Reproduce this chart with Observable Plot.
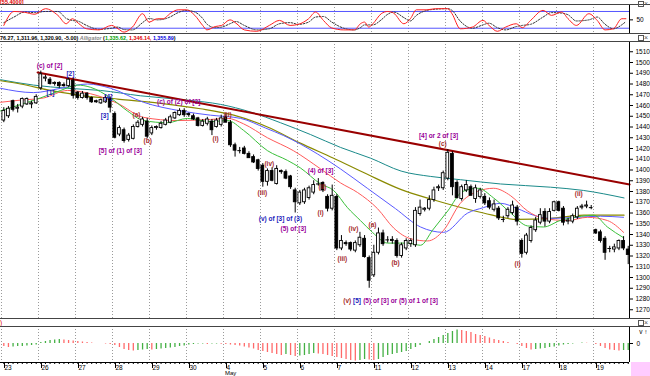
<!DOCTYPE html>
<html><head><meta charset="utf-8">
<script src="https://cdn.jsdelivr.net/npm/d3@7"></script>
<script src="https://cdn.jsdelivr.net/npm/@observablehq/plot@0.6"></script>
<style>
html,body{margin:0;padding:0;background:#fff;}
#c{position:relative;width:650px;height:376px;overflow:hidden;font-family:"Liberation Sans",Arial,sans-serif;background:#fff;}
#c svg{position:absolute;left:0;overflow:visible;}
.t{position:absolute;white-space:nowrap;font-size:6.5px;line-height:7px;}
.hl{position:absolute;height:1px;background:#000;}
</style></head><body><div id="c"></div>
<script>
// ---------- data ----------
const dayLabels = ["23","26","27","28","29","30","4","5","6","7","11","12","13","14","17","18","19"];
const monthLabel = "May";
const barsPerDay = 8;
const priceTicks = d3.range(1270, 1511, 10);

const opens = [
1446,1450,1464,1457,1459,1461,1461,1462, 1476,1485,1484,1480,1481,1479,1478,1483,
1472,1467,1471,1467,1464,1462,1463,1466, 1452,1433,1437,1428,1429,1440,1442,1445,
1434,1439,1439,1442,1444,1448,1451,1455, 1452,1450,1448,1441,1443,1445,1440,1442,
1449,1444,1423,1418,1420,1415,1412,1409, 1404,1389,1399,1387,1399,1398,1394,1381,
1369,1370,1374,1379,1387,1388,1375,1364, 1375,1327,1332,1332,1325,1330,1336,1318,
1302,1323,1341,1335,1335,1334,1320,1327, 1331,1330,1359,1363,1364,1372,1383,1383,
1392,1415,1388,1373,1381,1384,1373,1375, 1375,1371,1363,1364,1354,1357,1360,1365,
1334,1323,1334,1344,1351,1361,1352,1362, 1370,1364,1352,1352,1356,1365,1366,1365,
1344,1342,1336,1327,1326,1327,1334,1326];
const highs = [
1458,1459,1465,1461,1467,1467,1464,1470, 1492,1488,1486,1482,1482,1481,1485,1485,
1473,1473,1472,1468,1465,1466,1469,1468, 1454,1441,1439,1434,1442,1446,1449,1448,
1441,1441,1445,1448,1451,1454,1457,1457, 1453,1452,1449,1447,1449,1447,1448,1451,
1452,1446,1425,1421,1422,1417,1414,1410, 1406,1401,1402,1404,1400,1400,1395,1383,
1381,1383,1385,1390,1392,1389,1377,1386, 1377,1339,1334,1333,1334,1342,1339,1320,
1330,1346,1344,1338,1338,1336,1332,1336, 1336,1365,1372,1365,1376,1384,1386,1399,
1419,1417,1390,1386,1390,1386,1386,1383, 1378,1374,1372,1366,1357,1365,1371,1367,
1336,1341,1348,1356,1364,1364,1364,1371, 1371,1366,1355,1359,1366,1368,1371,1367,
1345,1344,1338,1329,1331,1335,1338,1329];
const lows = [
1444,1448,1454,1453,1457,1460,1457,1461, 1474,1482,1479,1478,1476,1477,1477,1466,
1465,1466,1465,1462,1462,1461,1462,1453, 1429,1431,1425,1426,1428,1439,1440,1429,
1432,1437,1438,1441,1443,1447,1450,1449, 1449,1446,1440,1440,1441,1432,1439,1440,
1444,1421,1412,1415,1414,1411,1406,1399, 1384,1385,1389,1386,1396,1391,1382,1360,
1367,1368,1372,1377,1385,1379,1361,1362, 1325,1325,1329,1324,1323,1328,1318,1290,
1300,1321,1329,1332,1331,1318,1318,1325, 1328,1328,1357,1361,1362,1370,1380,1381,
1390,1376,1373,1371,1379,1376,1369,1373, 1367,1363,1361,1353,1351,1355,1358,1348,
1318,1321,1332,1342,1349,1347,1350,1361, 1361,1348,1349,1350,1354,1363,1364,1363,
1340,1332,1316,1323,1323,1325,1325,1312];
const closes = [
1455,1457,1456,1458,1466,1466,1462,1468, 1489,1486,1480,1481,1478,1478,1484,1469,
1467,1471,1467,1463,1463,1465,1467,1458, 1430,1439,1427,1432,1440,1444,1447,1431,
1439,1440,1443,1446,1449,1453,1455,1451, 1451,1447,1441,1445,1447,1437,1446,1448,
1444,1423,1418,1418,1415,1411,1407,1401, 1389,1399,1390,1401,1398,1392,1384,1370,
1379,1381,1383,1386,1387,1381,1364,1376, 1327,1334,1331,1326,1332,1337,1319,1297,
1323,1341,1331,1335,1334,1320,1330,1334, 1334,1362,1365,1364,1372,1381,1384,1397,
1416,1384,1374,1384,1386,1376,1383,1381, 1369,1365,1368,1355,1354,1363,1367,1352,
1322,1339,1346,1353,1358,1352,1361,1370, 1362,1351,1353,1357,1364,1366,1367,1365,
1341,1334,1323,1327,1328,1334,1327,1321];

// moving averages: [bar position, price]
const tealLine = [[-0.7,1484],[6.4,1479],[13.8,1476],[20.9,1474],[29.6,1469],[39.7,1465],[46.9,1461],[53.3,1454],[59.8,1444],[66.3,1433],[72.8,1421],[79.3,1411],[85.9,1399],[92.3,1394],[98.7,1391],[107.4,1387],[118.2,1384],[125.3,1381],[134.1,1374]];
const oliveLine = [[-0.7,1483],[3.6,1480],[10.1,1474],[17.2,1469],[24.6,1466],[33.9,1462],[42.5,1457],[49.7,1451],[57,1440],[64.1,1425],[71.3,1411],[78.6,1396],[85.8,1382],[92.3,1373],[97.2,1367],[103.7,1360],[111.1,1354],[118.2,1355],[125.4,1358],[134.1,1358]];
const jawLine = [[-0.7,1476],[6.4,1472],[12.3,1476],[18.1,1480],[23.1,1476],[30.2,1463],[38.2,1455],[44.7,1451],[51.2,1448],[56.6,1439],[60.5,1432],[67.8,1415],[72.8,1401],[78.6,1383],[84.7,1364],[90.1,1347],[95.1,1342],[100.3,1360],[103.7,1365],[107.4,1369],[111.1,1364],[114.5,1358],[118.2,1355],[124,1356],[129,1357],[134,1356]];
const teethLine = [[-0.7,1463],[3.6,1465],[8.6,1467],[13.8,1474],[18.7,1471],[24.6,1462],[30.2,1449],[37.6,1446],[44.7,1447],[48.4,1448],[51.8,1443],[57,1430],[62.6,1418],[68.5,1401],[72.8,1388],[76.5,1379],[80.8,1364],[84.3,1346],[88,1336],[91.6,1334],[95.1,1344],[98.7,1369],[102.4,1380],[105.9,1383],[109.6,1376],[113.2,1362],[116.7,1355],[121.9,1353],[126.2,1356],[130.5,1353],[134,1342]];
const lipsLine = [[-0.7,1455],[3,1460],[7.9,1467],[12.3,1474],[15.9,1479],[18.7,1477],[23.1,1467],[26.7,1455],[30.2,1446],[35.4,1444],[39.7,1448],[44.7,1445],[48.4,1446],[51.8,1437],[57,1418],[61.3,1409],[64.1,1402],[68.5,1387],[71.3,1381],[74.3,1365],[77.1,1353],[79.7,1342],[83,1332],[87.3,1332],[90.1,1330],[92.7,1344],[96,1362],[99.2,1380],[102.5,1383],[105.9,1374],[109.6,1360],[113.2,1348],[116.7,1347],[120.3,1353],[124.9,1357],[127.5,1358],[130.5,1347],[134,1337]];
const trendLine = [[7.3,1490.7],[135.3,1386.5]];

// stochastic (top pane)
const stochPos = [0,2.2,4.5,6.7,9,11.7,13.5,14.8,16.1,17.9,20.6,23.3,24.7,26,27.8,30,31.4,33.2,34.5,35.9,37.7,39.5,41.3,43,43.9,45.7,47.1,48.9,50.2,52,54.7,57.4,59.6,61.9,63.7,65.9,67.4,69.1,70.9,73.5,75.8,77.1,78,78.9,79.8,81.6,83,84.3,86.5,87.9,89.2,91.5,93.3,96,96.9,98.7,101.3,103.6,104.9,106.7,108.5,110.8,112.1,113.9,116.6,118.4,120.6,122,123.8,126.5,128.3,130,131.8,133.6,134.5];
const stochK = [30,80,77,70,90,66,36,54,38,18,14,30,18,6,24,72,42,54,54,72,86,86,66,30,14,26,30,50,38,14,9,30,48,30,34,54,78,48,21,14,14,36,42,24,36,72,80,74,36,54,86,86,90,90,72,18,24,48,30,9,24,36,22,48,84,66,78,54,30,72,48,14,18,54,54];
const stochD = [40,60,78,76,80,80,55,48,45,30,16,20,24,15,14,40,55,50,52,60,76,84,78,55,35,22,24,36,44,30,14,18,36,40,34,42,60,62,42,20,14,22,32,32,32,50,70,78,58,46,66,84,88,90,84,45,20,32,38,22,14,26,30,34,60,76,74,68,46,50,60,34,18,32,44];
const stochLevels = [20, 80];

// oscillator histogram (bottom pane)
const aoValues = [
-3,-4,-3.5,-3,-3,-2.5,-2,-1.5, 1,2,3,3.5,4,3.5,3,2.5,
2,1.5,1,0.5,0,0,-0.5,-1, -2,-4,-6,-7,-7.5,-7,-6.5,-6,
-6.5,-6,-5.5,-5,-4.5,-4,-3,-2.5, -1.5,-1,-0.5,-0.5,-1,-0.5,-0.5,-0.8,
-1,-1.5,-2,-2.5,-3.5,-4.5,-5.5,-7, -8,-9,-10,-11,-12,-11,-12,-13,
-12.5,-12,-11,-10,-10.5,-11,-12,-13, -14,-15,-16,-17,-17.5,-17,-16,-16.5,
-17,-16,-14,-12,-11,-10,-9,-8, -6,-4,-2,0,2,4,6,8,
10,12,13.5,13,12,11,9,8, 7,5.5,4,3,2,1,0,-1,
-3,-5,-6.5,-6,-5.5,-5,-4,-3.5, -2.5,-1.5,-1,-0.5,0,0.5,0.3,0,
-1,-3,-5,-6.5,-7,-7.5,-7,-7];

// wave labels
const labelText = ["(c) of [2]","[2]","[1]","[4]","[3]","[5] of (1) of [3]","(a)","(b)","(c) of (2) of [3]","(i)","(ii)","(iii)","(iv)","(v) of [3] of (3)","(5) of [3]","(4) of [3]","(ii)","(i)","(iii)","(iv)","(a)","(b)","(v)","[5]","(5) of [3] or (5) of 1 of [3]","[4] or 2 of [3]","(c)","(i)","(ii)"];
const labelBar = [9.9,14.4,10.1,22.6,21.8,25.2,28.7,31.1,37.8,45.8,48.4,55.9,57.4,59.8,62.6,68.5,68.9,68.5,73.2,75.6,79.7,84.7,73.4,75.5,77.7,94,94.9,111.1,124.3];
const labelPrice = [1497.2,1489.8,1472.1,1468.4,1450.7,1418.1,1451.6,1427.4,1463.7,1429.3,1451.6,1379.1,1406.1,1354.9,1345.6,1399.5,1384.6,1360.5,1317.7,1345.6,1349.3,1314,1278.6,1278.6,1278.6,1432.1,1424.7,1313,1378.1];
const labelKind = ["p","b","b","b","b","p","r","r","p","r","r","r","r","b","p","p","r","r","r","r","r","r","r","b","p","p","r","r","r"];
const labelAnchor = ["middle","middle","middle","middle","middle","middle","middle","middle","middle","middle","middle","middle","middle","middle","middle","middle","middle","middle","middle","middle","middle","middle","start","start","start","middle","middle","middle","middle"];

// ---------- build ----------
const kindColor = {p: "#990099", b: "#2222bb", r: "#a52a2a"};
const nBars = opens.length;
const bars = d3.range(nBars).map(i => ({i, o: opens[i], h: highs[i], l: lows[i], c: closes[i]}));
const dayStarts = dayLabels.map((d, k) => k * barsPerDay - 0.5);
const xDom = [-0.716, 135.28];
const W = 650, MR = 21;
const grid = () => Plot.ruleX(dayStarts, {stroke: "#9a9a9a", strokeDasharray: "1,2", strokeWidth: 1});
const pts = a => a.map(([x, y]) => ({x, y}));

const root = document.getElementById("c");
function place(el, top) { el.style.top = top + "px"; root.appendChild(el); }

// top stochastic pane
const stochData = stochPos.map((x, k) => ({x, k: stochK[k], d: stochD[k]}));
const stoch = Plot.plot({
  width: W, height: 30, marginLeft: 0, marginRight: MR, marginTop: 0, marginBottom: 0,
  x: {domain: xDom, axis: null},
  y: {domain: [0, 100], range: [29.3, 1.4], axis: null},
  style: {fontFamily: "Liberation Sans, Arial, sans-serif", fontSize: "6.5px", background: "transparent"},
  marks: [
    grid(),
    Plot.ruleY(stochLevels, {x1: xDom[0], x2: xDom[1], stroke: "#5555ff", strokeWidth: 1}),
    Plot.line(stochData, {x: "x", y: "d", stroke: "#333", strokeWidth: 1, strokeDasharray: "1.5,1.5", curve: "monotone-x"}),
    Plot.line(stochData, {x: "x", y: "k", stroke: "#ff2020", strokeWidth: 1, curve: "monotone-x"}),
    Plot.ruleX([xDom[1]], {stroke: "#000"}),
    Plot.axisY({anchor: "right", ticks: [50], tickSize: 3, fontSize: 6.5, tickPadding: 4})
  ]
});
place(stoch, 4);

// main price pane
const labelRows = labelText.map((t, k) => ({t, x: labelBar[k], y: labelPrice[k], c: kindColor[labelKind[k]], a: labelAnchor[k]}));
const main = Plot.plot({
  width: W, height: 278, marginLeft: 0, marginRight: MR, marginTop: 0, marginBottom: 0,
  x: {domain: xDom, axis: null},
  y: {domain: [1270, 1510], range: [268.25, 10.25], axis: null},
  style: {fontFamily: "Liberation Sans, Arial, sans-serif", fontSize: "6.5px", background: "transparent"},
  marks: [
    grid(),
    Plot.line(pts(tealLine), {x: "x", y: "y", stroke: "#1a8a8a", strokeWidth: 1, curve: "monotone-x"}),
    Plot.line(pts(oliveLine), {x: "x", y: "y", stroke: "#8a8a00", strokeWidth: 1.2, curve: "monotone-x"}),
    Plot.line(pts(jawLine), {x: "x", y: "y", stroke: "#5a5aff", strokeWidth: 1, curve: "monotone-x"}),
    Plot.line(pts(teethLine), {x: "x", y: "y", stroke: "#ff5a5a", strokeWidth: 1, curve: "monotone-x"}),
    Plot.line(pts(lipsLine), {x: "x", y: "y", stroke: "#3ac03a", strokeWidth: 1, curve: "monotone-x"}),
    Plot.line(pts(trendLine), {x: "x", y: "y", stroke: "#990000", strokeWidth: 2}),
    Plot.ruleX(bars, {x: "i", y1: "l", y2: "h", stroke: "#000", strokeWidth: 1}),
    Plot.rect(bars.filter(d => Math.abs(d.c - d.o) >= 0.6), {x1: d => d.i - 0.3, x2: d => d.i + 0.3, y1: "o", y2: "c", fill: d => d.c >= d.o ? "#fff" : "#000", stroke: "#000", strokeWidth: 0.9}),
    Plot.ruleY(bars.filter(d => Math.abs(d.c - d.o) < 0.6), {y: "c", x1: d => d.i - 0.4, x2: d => d.i + 0.4, stroke: "#000", strokeWidth: 1}),
    Plot.text(labelRows.filter(d => d.a === "middle"), {x: "x", y: "y", text: "t", fill: "c", fontWeight: "bold", fontSize: 6.5, textAnchor: "middle"}),
    Plot.text(labelRows.filter(d => d.a === "start"), {x: "x", y: "y", text: "t", fill: "c", fontWeight: "bold", fontSize: 6.5, textAnchor: "start"}),
    Plot.ruleX([xDom[1]], {stroke: "#000"}),
    Plot.axisY({anchor: "right", ticks: priceTicks, tickSize: 3, fontSize: 6.5, tickPadding: 3, tickFormat: d => String(d)})
  ]
});
place(main, 41);

// bottom oscillator pane
const aoData = aoValues.map((v, i) => ({i, v, up: i === 0 ? v >= 0 : v >= aoValues[i - 1]}));
const ao = Plot.plot({
  width: W, height: 50, marginLeft: 0, marginRight: MR, marginTop: 0, marginBottom: 14,
  x: {domain: xDom, axis: null},
  y: {domain: [-19, 17], axis: null},
  style: {fontFamily: "Liberation Sans, Arial, sans-serif", fontSize: "6.5px", background: "transparent"},
  marks: [
    grid(),
    Plot.ruleX(aoData, {x: "i", y1: 0, y2: "v", stroke: d => d.up ? "#44b044" : "#ff6a6a", strokeWidth: 1.3}),
    Plot.ruleX([xDom[1]], {stroke: "#000"}),
    Plot.ruleY([-19], {x1: xDom[0], x2: xDom[1], stroke: "#000"}),
    Plot.axisY({anchor: "right", ticks: [0], tickSize: 3, fontSize: 6.5, tickPadding: 4}),
    Plot.axisX({ticks: d3.range(nBars), tickSize: 2, tickFormat: () => ""}),
    Plot.axisX({ticks: dayStarts, tickSize: 6, tickFormat: d => dayLabels[Math.round((d + 0.5) / barsPerDay)], textAnchor: "start", dx: 3, fontSize: 6.5, tickPadding: -3}),
    Plot.text([monthLabel], {x: dayStarts[6], frameAnchor: "bottom", dy: 12.5, dx: 1.5, textAnchor: "start", fontSize: 6})
  ]
});
place(ao, 326);

// text rows, borders
function txt(html, left, top, style) { const d = document.createElement("div"); d.className = "t"; d.innerHTML = html; d.style.left = left + "px"; d.style.top = top + "px"; if (style) d.style.cssText += style; root.appendChild(d); }
function hline(top, left, width, color) { const d = document.createElement("div"); d.className = "hl"; d.style.top = top + "px"; d.style.left = left + "px"; d.style.width = width + "px"; if (color) d.style.background = color; root.appendChild(d); }
txt('[55.4000]', 0, 0, "color:#e00000;font-weight:bold;font-size:5.5px;line-height:5px;");
hline(4, 0, 650, "#444");
hline(33, 0, 650, "#444");
txt('76.27, 1,311.96, 1,320.90, -5.00) <span style="color:#888;font-style:italic">Alligator</span> (<span style="color:#00a000">1,335.62,</span> <span style="color:#e00000">1,346.14,</span> <span style="color:#0000dd">1,355.89</span>)', 0, 34.5, "font-weight:bold;font-size:5.4px;");
hline(41, 0, 650, "#444");
hline(318, 0, 650, "#444");
txt(')', 0, 319, "color:#e00000;");
hline(326, 0, 650, "#444");
const pink = document.createElement("div");
pink.style.cssText = "position:absolute;left:631px;top:362px;width:19px;height:14px;background:#ffccff;";
root.appendChild(pink);
for (const t of [0, 34, 319]) txt('<span style="display:inline-block;width:4px;height:4px;border:1px solid #555;vertical-align:middle"></span><span style="color:#555">×</span>', 638, t, "font-size:7px;");
</script></body></html>
